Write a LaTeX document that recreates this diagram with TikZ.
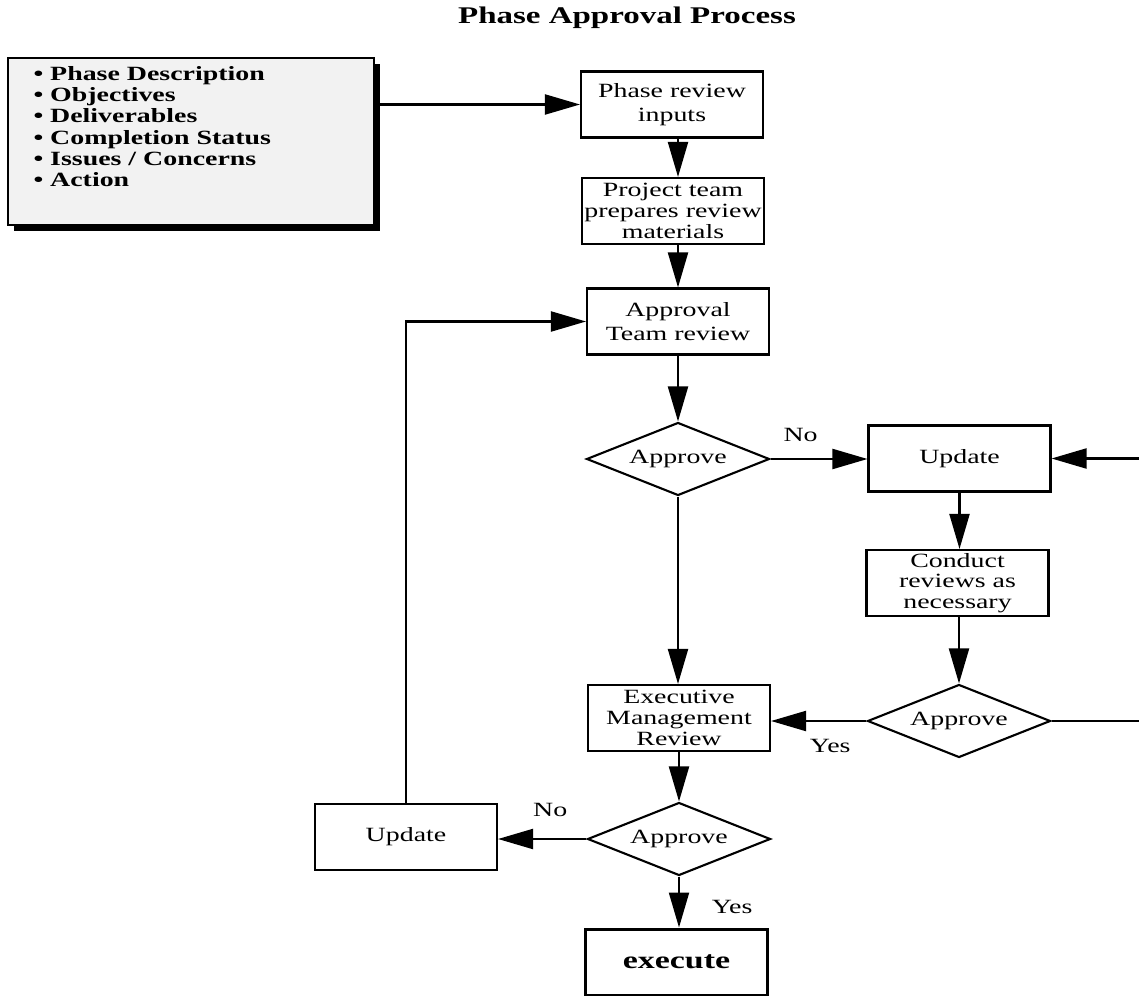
\documentclass[tikz,border=0pt]{standalone}
\usepackage{fontspec}
\setmainfont{Liberation Serif}[FakeStretch=1.38]
\usetikzlibrary{shapes.geometric,arrows.meta,shadows}

\tikzset{
	kasten/.style={draw, line width=1.2pt, minimum width=3.64cm, minimum height=1.32cm, inner sep=1pt, align=center, font=\fontsize{11.5}{11.8}\selectfont},
	raute/.style={draw, diamond, aspect=2.5, line width=1.2pt, minimum width=3.66cm, minimum height=1.46cm, inner sep=0pt, font=\fontsize{11.5}{11.8}\selectfont},
	pfeil/.style={line width=1.2pt, -{Triangle[length=0.7cm,width=0.4cm]}},
	marke/.style={font=\fontsize{11.5}{12}\selectfont, inner sep=1pt}
}

\begin{document}
\begin{tikzpicture}[x=0.02cm, y=-0.02cm]
		\useasboundingbox (0,0) rectangle (1139,996);
		
		% Titel
		\node[font=\fontsize{13.6}{14}\selectfont\bfseries] (titel) at (627,18) {Phase Approval Process};
		
		% Eingaben
		\node[draw, line width=1.2pt, fill=gray!10, drop shadow={shadow xshift=0.12cm, shadow yshift=-0.12cm, fill=black, opacity=1}, minimum width=7.32cm, minimum height=3.34cm, inner sep=0pt] (eingaben) at (191,141.5)
		{\parbox[c][3.34cm][t]{6.3cm}{\fontsize{11.5}{12}\selectfont\bfseries\vspace*{5pt}%
		• Phase Description\\
		• Objectives\\
		• Deliverables\\
		• Completion Status\\
		• Issues / Concerns\\
		• Action}};
		
		% Hauptspalte
		\node[kasten, font=\fontsize{11.5}{14}\selectfont] (eingang) at (672,104.5) {Phase review\\inputs};
		\node[kasten] (team) at (673,211) {Project team\\prepares review\\materials};
		\node[kasten, font=\fontsize{11.5}{14}\selectfont] (pruefung) at (678,321.5) {Approval\\Team review};
		\node[raute] (ok1) at (678,459) {Approve};
		\node[kasten] (exec) at (679,718) {Executive\\Management\\Review};
		\node[raute] (ok3) at (679,839) {Approve};
		\node[kasten, line width=1.7pt, font=\fontsize{14}{14}\selectfont\bfseries] (ausf) at (676.5,962) {execute};
		
		% rechte Spalte
		\node[kasten] (upd1) at (959.5,458.5) {Update};
		\node[kasten] (reviews) at (957.5,583) {Conduct\\reviews as\\necessary};
		\node[raute] (ok2) at (959,721) {Approve};
		
		% linke Spalte
		\node[kasten] (upd2) at (406,837) {Update};
		
		\coordinate (rand) at (1145,590);
		
		% Pfeile
		\draw[pfeil] (eingaben.east |- eingang.west) -- (eingang.west);
		\draw[pfeil] (eingang.south -| pruefung) -- (team.north -| pruefung);
		\draw[pfeil] (team.south -| pruefung) -- (pruefung.north);
		\draw[pfeil] (pruefung) -- (ok1);
		\draw[pfeil] (ok1.east) -- node[marke, above=8pt, pos=0.31] {No} (ok1.east -| upd1.west);
		\draw[pfeil] (upd1.south) -- (upd1.south |- reviews.north);
		\draw[pfeil] (reviews.south -| ok2) -- (ok2.north);
		\draw[pfeil] (ok2.west) -- node[marke, below=9pt, pos=0.38] {Yes} (ok2.west -| exec.east);
		\draw[pfeil] (ok2.east) -- (ok2.east -| rand) -- (upd1.east -| rand) -- (upd1.east);
		\draw[pfeil] (ok1.south) -- (ok1.south |- exec.north);
		\draw[pfeil] (exec.south -| ok3) -- (ok3.north);
		\draw[pfeil] (ok3.west) -- node[marke, above=11pt, pos=0.41] {No} (ok3.west -| upd2.east);
		\draw[pfeil] (ok3.south) -- node[marke, right=0.6cm, pos=0.6] {Yes} (ok3.south |- ausf.north);
		\draw[pfeil] (upd2.north) -- (upd2.north |- pruefung.west) -- (pruefung.west);
	\end{tikzpicture}
\end{document}
